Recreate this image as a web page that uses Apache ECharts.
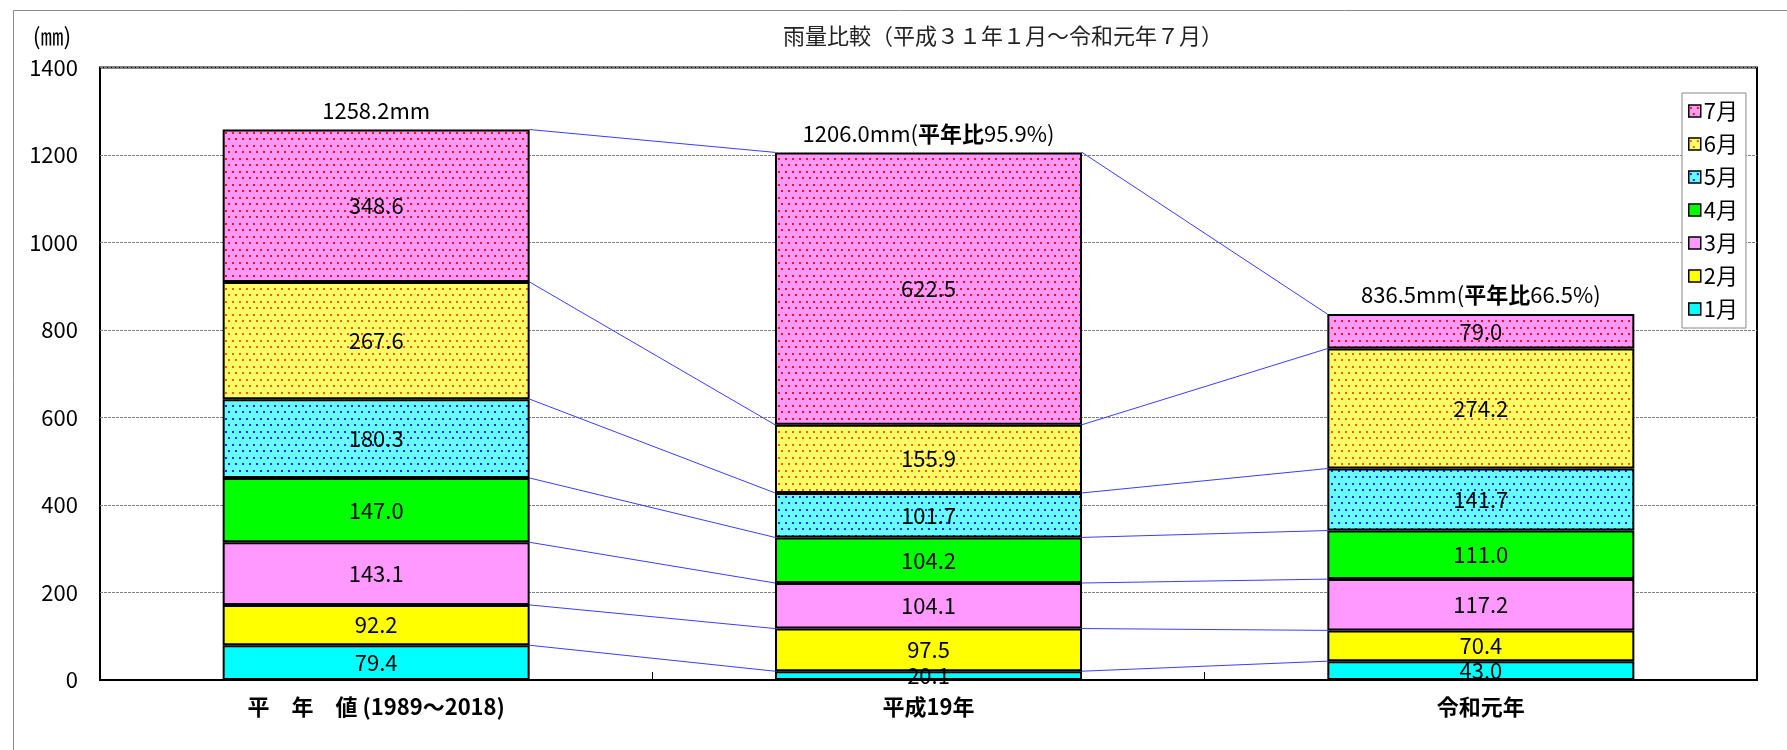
<!DOCTYPE html>
<html>
<head>
<meta charset="utf-8">
<script src="https://cdn.jsdelivr.net/npm/echarts@6/dist/echarts.min.js"></script>
<style>
  html, body { margin: 0; padding: 0; background: #fff; }
  #main { width: 1787px; height: 750px; }
</style>
</head>
<body>
<div id="main"></div>
<script>
// データ
const categories = ["平　年　値 (1989～2018)", "平成19年", "令和元年"]
const months = ["1月", "2月", "3月", "4月", "5月", "6月", "7月"]
const jan = [79.4, 20.1, 43.0]
const feb = [92.2, 97.5, 70.4]
const mar = [143.1, 104.1, 117.2]
const apr = [147.0, 104.2, 111.0]
const may = [180.3, 101.7, 141.7]
const jun = [267.6, 155.9, 274.2]
const jul = [348.6, 622.5, 79.0]
const yTicks = [0, 1400, 200]

const monthData = [jan, feb, mar, apr, may, jun, jul]
const barWidth = 307
const FONT = "Noto Sans CJK JP"
const FS = 22

// ドット模様のタイルを作る
function dotPattern(bg, dot) {
  const c = document.createElement("canvas")
  c.width = 7
  c.height = 13
  const ctx = c.getContext("2d")
  ctx.fillStyle = bg
  ctx.fillRect(0, 0, 7, 13)
  ctx.fillStyle = dot
  ctx.fillRect(1, 2, 2, 2)
  ctx.fillRect(4, 8, 2, 2)
  return { image: c, repeat: "repeat" }
}

const colors = [
  "#00FFFF",
  "#FFFF00",
  "#FF99FF",
  "#00FF00",
  dotPattern("#66FFFF", "#2020FF"),
  dotPattern("#FFFF66", "#FF5A10"),
  dotPattern("#FF99FF", "#FF1010"),
]

// 合計と積み上げ位置
const totals = categories.map((_, i) => monthData.reduce((s, arr) => s + arr[i], 0))
const cumTops = monthData.map((_, m) =>
  categories.map((_, i) => monthData.slice(0, m + 1).reduce((s, arr) => s + arr[i], 0))
)

const chartDom = document.getElementById("main")
const myChart = echarts.init(chartDom)

const barSeries = months.map((name, m) => ({
  name: name,
  type: "bar",
  stack: "total",
  barWidth: barWidth,
  data: monthData[m],
  itemStyle: { color: colors[m], borderColor: "#000", borderWidth: 2 },
  label: {
    show: true,
    position: "inside",
    color: "#000",
    fontSize: FS,
    fontFamily: FONT,
    formatter: (p) => p.value.toFixed(1),
  },
  z: 3,
}))

// 合計ラベル用
const totalSeries = {
  name: "合計",
  type: "bar",
  stack: "total",
  barWidth: barWidth,
  data: categories.map(() => 0),
  itemStyle: { color: "transparent", borderWidth: 0 },
  label: {
    show: true,
    position: "top",
    distance: 8,
    color: "#000",
    fontSize: FS,
    fontFamily: FONT,
    formatter: (p) => {
      const t = totals[p.dataIndex].toFixed(1) + "mm"
      if (p.dataIndex === 0) return t
      const r = ((totals[p.dataIndex] / totals[0]) * 100).toFixed(1)
      return t + "({b|平年比}" + r + "%)"
    },
    rich: { b: { fontWeight: "bold", fontSize: FS, fontFamily: FONT, color: "#000" } },
  },
  z: 3,
}

// 区分線
const lineData = []
cumTops.forEach((tops) => {
  for (let i = 0; i < categories.length - 1; i++) lineData.push([i, tops[i], tops[i + 1]])
})
const lineSeries = {
  name: "区分線",
  type: "custom",
  data: lineData,
  encode: { x: 0, y: [1, 2] },
  renderItem: (params, api) => {
    const i = api.value(0)
    const p1 = api.coord([i, api.value(1)])
    const p2 = api.coord([i + 1, api.value(2)])
    const hw = barWidth / 2
    return {
      type: "line",
      shape: { x1: p1[0] + hw, y1: p1[1], x2: p2[0] - hw, y2: p2[1] },
      style: { stroke: "#3c3cff", lineWidth: 1 },
    }
  },
  silent: true,
  z: 2,
}

const option = {
  animation: false,
  textStyle: { fontFamily: FONT },
  grid: {
    left: 100,
    right: 30,
    top: 67.5,
    bottom: 70,
    show: true,
    borderColor: "#000",
    borderWidth: 2,
  },
  legend: {
    data: months.slice().reverse(),
    orient: "vertical",
    left: 1682,
    top: 93,
    itemWidth: 12,
    itemHeight: 12,
    itemGap: 11,
    padding: [7, 8, 8, 6],
    backgroundColor: "#fff",
    borderColor: "#888",
    borderWidth: 1,
    borderRadius: 0,
    icon: "rect",
    itemStyle: { borderColor: "#000", borderWidth: 1.5 },
    textStyle: { fontSize: FS, fontFamily: FONT, color: "#000", padding: [0, 0, 0, -2] },
  },
  xAxis: {
    type: "category",
    data: categories,
    axisLine: { lineStyle: { color: "#000", width: 2 } },
    axisTick: { show: true, inside: true, length: 8, lineStyle: { color: "#000" } },
    axisLabel: { color: "#000", fontSize: FS, fontWeight: "bold", fontFamily: FONT, margin: 16 },
  },
  yAxis: {
    type: "value",
    min: yTicks[0],
    max: yTicks[1],
    interval: yTicks[2],
    axisLine: { show: false },
    axisTick: { show: false },
    axisLabel: {
      color: "#000",
      fontSize: FS,
      fontFamily: FONT,
      margin: 22,
      formatter: (v) => String(v),
    },
    splitLine: { show: true, lineStyle: { color: "#808080", type: [3, 1], width: 1 } },
  },
  graphic: [
    {
      type: "rect",
      shape: { x: 13.5, y: 10.5, width: 1800, height: 800 },
      style: { fill: "none", stroke: "#8a8a8a", lineWidth: 1 },
      silent: true,
      z: -1,
    },
    {
      type: "text",
      x: 1003,
      y: 36,
      style: {
        text: "雨量比較（平成３１年１月～令和元年７月）",
        fontSize: 22,
        fontFamily: FONT,
        fill: "#222",
        textAlign: "center",
        textVerticalAlign: "middle",
      },
    },
    {
      type: "text",
      x: 52,
      y: 36,
      style: {
        text: "(㎜)",
        fontSize: 23,
        fontFamily: FONT,
        fill: "#000",
        textAlign: "center",
        textVerticalAlign: "middle",
      },
    },
  ],
  series: [lineSeries, ...barSeries, totalSeries],
}

option && myChart.setOption(option)
</script>
</body>
</html>
